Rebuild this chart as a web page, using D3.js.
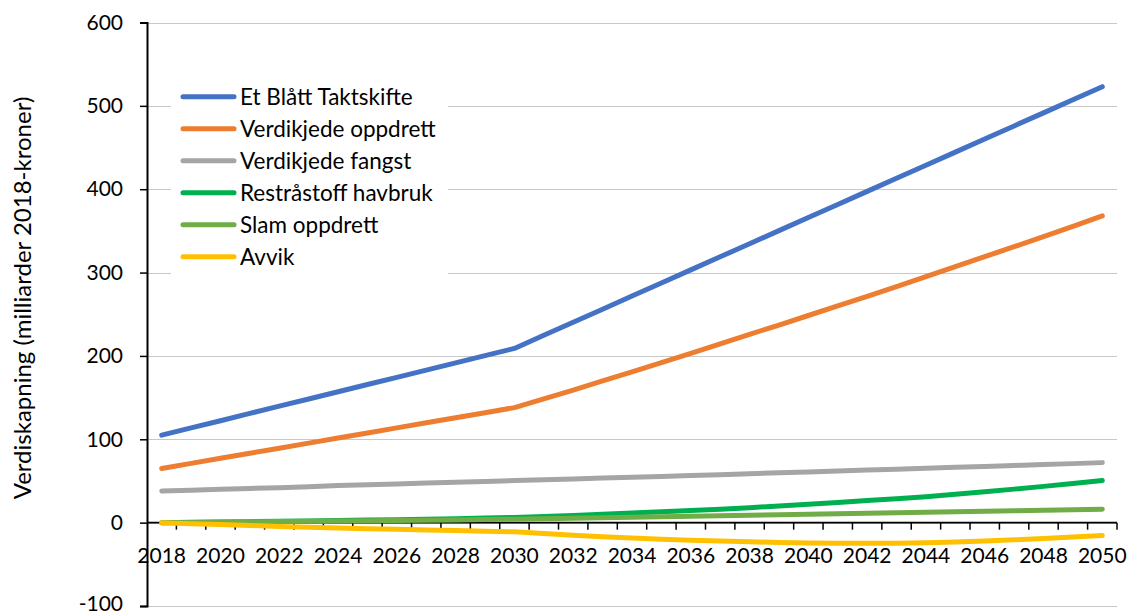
<!DOCTYPE html>
<html>
<head>
<meta charset="utf-8">
<script src="https://cdn.jsdelivr.net/npm/d3@7"></script>
<style>
  html, body { margin: 0; padding: 0; background: #fff; }
  svg { display: block; font-family: Lato, "Open Sans", sans-serif; }
</style>
</head>
<body>
<svg id="chart" width="1129" height="614"></svg>
<script>
const years = [2018,2019,2020,2021,2022,2023,2024,2025,2026,2027,2028,2029,2030,2031,2032,2033,2034,2035,2036,2037,2038,2039,2040,2041,2042,2043,2044,2045,2046,2047,2048,2049,2050];
const etBlattTaktskifte = [105,113.7,122.3,131,139.7,148.3,157,165.7,174.3,183,191.7,200.3,209,224.7,240.4,256.1,271.8,287.5,303.2,318.9,334.6,350.3,366,381.7,397.4,413.1,428.8,444.5,460.2,475.9,491.6,507.3,523];
const verdikjedeOppdrett = [65,71.1,77.2,83.3,89.3,95.4,101.5,107.6,113.7,119.8,125.8,131.9,138,148.5,159,170,181,192,203,214.5,226,237,248.5,260,271.5,283,295,307,319,331,343,355.5,368];
const verdikjedeFangst = [38,39,40,41,42,43,44.5,45.5,46.5,47.5,48.5,49.5,50.5,51.5,52.5,53.5,54.5,55.5,56.5,57.6,58.7,59.8,60.9,62,63.1,64.2,65.3,66.4,67.5,68.6,69.7,70.8,72];
const reststoffHavbruk = [0,0.4,0.8,1.2,1.7,2.1,2.6,3.1,3.6,4.2,4.8,5.5,6.2,7.3,8.5,10,11.5,13,14.5,16.2,18,20,22,24.2,26.5,28.7,31,34,37,40.2,43.5,47,50.5];
const slamOppdrett = [0,0.3,0.7,1,1.3,1.7,2,2.3,2.7,3,3.3,3.7,4,4.6,5.2,5.8,6.4,7,7.6,8.2,8.8,9.4,10,10.6,11.2,11.8,12.4,13,13.6,14.2,14.8,15.4,16];
const avvik = [0,-1.2,-2.3,-3.4,-4.5,-5.5,-6.5,-7.3,-8,-8.8,-9.5,-10.2,-11,-13,-15,-16.8,-18.5,-19.8,-21,-22.1,-23,-23.8,-24.3,-24.6,-24.8,-24.6,-24,-23.2,-22,-20.6,-19,-17.3,-15.5];

const seriesNames = ["Et Blått Taktskifte","Verdikjede oppdrett","Verdikjede fangst","Restråstoff havbruk","Slam oppdrett","Avvik"];
const seriesValues = [etBlattTaktskifte, verdikjedeOppdrett, verdikjedeFangst, reststoffHavbruk, slamOppdrett, avvik];
const seriesColors = ["#4472C4","#ED7D31","#A5A5A5","#00B050","#70AD47","#FFC000"];
const yTicks = [-100,0,100,200,300,400,500,600];
const xTickLabels = [2018,2020,2022,2024,2026,2028,2030,2032,2034,2036,2038,2040,2042,2044,2046,2048,2050];
const yTitle = "Verdiskapning (milliarder 2018-kroner)";

const svg = d3.select("#chart");
const L = 147, R = 1117, T = 22.5, B = 606;

const x = d3.scalePoint().domain(years).range([L, R]).padding(0.5);
const xb = d3.scaleBand().domain(years).range([L, R]);
const y = d3.scaleLinear().domain([-100, 600]).range([B, T]);

// gridlines
svg.append("g").selectAll("line").data(yTicks).join("line")
  .attr("x1", L).attr("x2", R)
  .attr("y1", d => Math.round(y(d)) + 0.5).attr("y2", d => Math.round(y(d)) + 0.5)
  .attr("stroke", "#c8c8c8").attr("stroke-width", 1.2);

// y axis
const yAxis = d3.axisLeft(y).tickValues(yTicks).tickSize(7).tickPadding(17).tickFormat(d => String(d));
const gy = svg.append("g").attr("transform", `translate(${L},0)`).call(yAxis);
gy.select(".domain").attr("stroke", "#000").attr("stroke-width", 2);
gy.selectAll(".tick line").attr("stroke", "#000").attr("stroke-width", 1.5);
gy.selectAll(".tick text").attr("font-size", 21).attr("fill", "#000").attr("font-family", "Lato, sans-serif")
  .attr("dy", d => d === -100 ? "0.2em" : "0.32em");

// x axis at y=0
const gx = svg.append("g").attr("transform", `translate(0,${y(0)})`);
gx.append("line").attr("x1", L).attr("x2", R).attr("y1", 0).attr("y2", 0).attr("stroke", "#000").attr("stroke-width", 1.8);
const boundaries = years.map(d => xb(d)).concat([R]).slice(1);
gx.selectAll("line.tk").data(boundaries).join("line").attr("class", "tk")
  .attr("x1", d => d).attr("x2", d => d).attr("y1", 0).attr("y2", 7)
  .attr("stroke", "#000").attr("stroke-width", 1.5);
gx.selectAll("text").data(xTickLabels).join("text")
  .attr("x", d => x(d)).attr("y", 40)
  .attr("text-anchor", "middle").attr("font-size", 21).attr("fill", "#000")
  .text(d => d);

// lines
const line = d3.line().x((d, i) => x(years[i])).y(d => y(d));
svg.append("g").selectAll("path").data(seriesValues).join("path")
  .attr("d", d => line(d))
  .attr("fill", "none")
  .attr("stroke", (d, i) => seriesColors[i])
  .attr("stroke-width", 5)
  .attr("stroke-linecap", "round")
  .attr("stroke-linejoin", "round");

// legend
const lg = svg.append("g");
lg.append("rect").attr("x", 171).attr("y", 79).attr("width", 277).attr("height", 197).attr("fill", "#fff");
const rows = lg.selectAll("g").data(seriesNames).join("g")
  .attr("transform", (d, i) => `translate(0,${96.7 + i * 32})`);
rows.append("line").attr("x1", 183).attr("x2", 234).attr("y1", 0).attr("y2", 0)
  .attr("stroke", (d, i) => seriesColors[i]).attr("stroke-width", 5).attr("stroke-linecap", "round");
rows.append("text").attr("x", 240).attr("y", 8).attr("font-size", 22.5).attr("fill", "#000").text(d => d);

// y title
svg.append("text").attr("transform", "translate(31,298) rotate(-90)")
  .attr("text-anchor", "middle").attr("font-size", 24).attr("fill", "#000")
  .text(yTitle);
</script>
</body>
</html>
